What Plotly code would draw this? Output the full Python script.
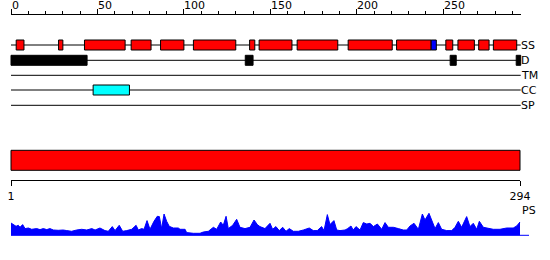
import plotly.graph_objects as go

# ---------------- data ----------------
seq_len = 294
track_names = ["SS", "D", "TM", "CC", "SP"]

# secondary structure (helix, red) segments in residues
ss_start = [3, 27.5, 42.5, 69.5, 86.5, 105.5, 138, 143.5, 165.5, 195, 223, 251.5, 258.5, 270.5, 279]
ss_end = [7.5, 30, 66, 81, 100, 130, 141, 162.5, 189, 220.5, 243, 255.5, 268, 276.5, 292.5]
# strand (blue)
ss_b_start = [243]
ss_b_end = [246]
# disorder (black)
dis_start = [0, 135.5, 254, 292.2]
dis_end = [44, 140, 257.5, 294.8]
# transmembrane (none)
tm_start, tm_end = [], []
# coiled coil (cyan)
cc_start = [47.5]
cc_end = [68.5]
# signal peptide (none)
sp_start, sp_end = [], []

top_ticks = [0, 50, 100, 150, 200, 250]
top_tick_labels = ["0", "50", "100", "150", "200", "250"]
bottom_ticks = [1, 294]
bottom_tick_labels = ["1", "294"]

# PS profile (residue, score)
ps_pos = [1.0, 2.3, 3.9, 5.2, 6.2, 7.7, 9.1, 11.0, 12.9, 15.8, 17.7, 19.6, 21.6, 23.4, 25.4, 28.2,
          31.1, 33.1, 35.9, 38.8, 41.7, 44.6, 47.5, 49.4, 52.2, 55.1, 57.0, 59.3, 60.9, 63.3, 65.3,
          67.6, 70.5, 73.0, 74.3, 76.2, 77.6, 79.3, 81.0, 83.3, 85.2, 86.4, 87.7, 89.1, 90.6, 92.1,
          94.4, 97.3, 98.3, 101.2, 102.1, 106.0, 109.8, 111.7, 114.6, 117.5, 119.4, 121.7, 123.2,
          124.8, 126.1, 128.6, 130.9, 132.8, 135.7, 138.6, 140.9, 142.8, 144.3, 147.2, 150.1, 151.6,
          153.5, 155.4, 157.4, 159.3, 161.2, 163.5, 166.4, 169.3, 172.7, 175.0, 177.3, 179.8, 181.2,
          183.1, 184.6, 186.9, 188.5, 190.4, 193.3, 194.8, 196.7, 198.0, 199.6, 201.9, 203.8, 205.8,
          207.7, 209.6, 211.9, 214.4, 216.3, 218.2, 221.1, 224.0, 226.8, 228.8, 230.7, 233.0, 235.5,
          237.8, 239.3, 241.6, 243.2, 245.1, 247.0, 248.9, 251.8, 254.7, 256.6, 258.5, 260.4, 263.3,
          265.2, 267.1, 269.1, 270.6, 272.9, 275.8, 278.6, 282.5, 286.3, 290.1, 292.1, 294.0]
ps_val = [12.3, 10.7, 9, 10, 8, 10.7, 6.7, 7.3, 6, 6.7, 5.7, 6.7, 5.7, 6.7, 5.3, 5,
          5.3, 4.7, 4, 5.3, 6, 5.3, 6.7, 5.3, 7.3, 4.7, 4, 8.7, 4.7, 10, 4,
          4.7, 6, 10, 5.3, 6.7, 6, 14.7, 6, 14, 19, 18.7, 6.7, 21.3, 14, 9,
          7.3, 7.3, 6, 6, 2.7, 2, 2, 3.3, 4, 8, 6, 13.3, 10,
          19, 6.7, 10, 16, 8, 6.7, 8, 15.3, 10.7, 8.7, 6.7, 12, 6,
          8.7, 4.7, 8, 4, 6.7, 4, 4, 5.3, 7.3, 4.7, 4.7, 8.7, 4.7,
          20.7, 10.7, 14.7, 5.3, 4.7, 5.3, 6.7, 9.3, 5.3, 8.7, 5.3, 12.7, 11.3,
          12, 8.7, 11.3, 6, 12.7, 8, 8, 6.7, 5.3, 5.3, 9.3, 12, 6,
          21.3, 15.3, 22, 15.3, 6.7, 12.7, 6, 4.7, 4.7, 8, 14, 8, 18.7,
          8.7, 12, 6, 14, 8, 6.7, 6, 6, 7.3, 7.3, 9.3, 13.3]

# ---------------- layout constants ----------------
W, H = 550, 260
FONT = "DejaVu Sans"


def fy(px):
    return 1 - px / H


X0 = 11.0              # pixel of residue 0 (top) / 1 (bottom)
TOP_END = 520.7
TOP_SCALE = 1.729      # px per residue (top)
BOT_END = 520.0
BOT_SCALE = (BOT_END - X0) / (bottom_ticks[1] - bottom_ticks[0])
row_y = [45, 60.3, 75.3, 90, 105.3]
box_h = 5
line_end = 294.8

fig = go.Figure()

# dummy traces to create subplots
for xa, ya in [("x", "y"), ("x2", "y2"), ("x3", "y3")]:
    fig.add_trace(go.Scatter(x=[], y=[], xaxis=xa, yaxis=ya, showlegend=False, hoverinfo="skip"))

# PS area
fig.add_trace(go.Scatter(x=ps_pos, y=ps_val, mode="lines", fill="tozeroy",
                         fillcolor="#0000ff", line=dict(color="#0000ff", width=1),
                         xaxis="x4", yaxis="y4", showlegend=False, hoverinfo="skip"))

shapes = []
# track baselines
for yv in row_y:
    shapes.append(dict(type="line", xref="x2", yref="y2", x0=0, x1=line_end, y0=yv, y1=yv,
                       line=dict(color="black", width=1), layer="below"))


def boxes(starts, ends, yv, color):
    for s, e in zip(starts, ends):
        shapes.append(dict(type="rect", xref="x2", yref="y2", x0=s, x1=e,
                           y0=yv - box_h, y1=yv + box_h, fillcolor=color,
                           line=dict(color="black", width=1)))


boxes(ss_start, ss_end, row_y[0], "#ff0000")
boxes(ss_b_start, ss_b_end, row_y[0], "#0000ff")
boxes(dis_start, dis_end, row_y[1], "#000000")
boxes(tm_start, tm_end, row_y[2], "#00ff00")
boxes(cc_start, cc_end, row_y[3], "#00ffff")
boxes(sp_start, sp_end, row_y[4], "#ff00ff")

# big red bar (whole sequence)
BASE_PX = 235.3
shapes.append(dict(type="rect", xref="x4", yref="y4", x0=bottom_ticks[0], x1=seq_len,
                   y0=BASE_PX - 170.3, y1=BASE_PX - 150.3, fillcolor="#ff0000",
                   line=dict(color="black", width=1)))
# PS baseline
shapes.append(dict(type="line", xref="x4", yref="y4", x0=bottom_ticks[0],
                   x1=bottom_ticks[0] + (529 - X0) / BOT_SCALE, y0=0, y1=0,
                   line=dict(color="#0000ff", width=1)))

annotations = []
for tv, tl in zip(top_ticks, top_tick_labels):
    annotations.append(dict(x=tv, xref="x", y=fy(5), yref="paper", text=tl, showarrow=False,
                            xanchor="left", yanchor="middle", borderpad=0, xshift=-0.5,
                            font=dict(family=FONT, size=11, color="black")))
for name, yv in zip(track_names, row_y):
    annotations.append(dict(x=519.5 / W, xref="paper", y=yv, yref="y2", text=name, showarrow=False,
                            xanchor="left", yanchor="middle", borderpad=0,
                            font=dict(family=FONT, size=11, color="black")))
annotations.append(dict(x=520.5 / W, xref="paper", y=fy(210.7), yref="paper", text="PS",
                        showarrow=False, xanchor="left", yanchor="middle", borderpad=0,
                        font=dict(family=FONT, size=11, color="black")))

hidden = dict(visible=False, showgrid=False, zeroline=False, fixedrange=True, automargin=False)

fig.update_layout(
    width=W, height=H, margin=dict(l=0, r=0, t=0, b=0, pad=0, autoexpand=False),
    paper_bgcolor="white", plot_bgcolor="rgba(0,0,0,0)", showlegend=False,
    shapes=shapes, annotations=annotations,
    xaxis=dict(domain=[X0 / W, TOP_END / W], range=[0, (TOP_END - X0) / TOP_SCALE],
               anchor="y", side="top", showline=True, linecolor="black", linewidth=1,
               ticks="outside", ticklen=5, tickcolor="black", tickwidth=1,
               tickmode="linear", tick0=0, dtick=50, showticklabels=False,
               minor=dict(ticks="outside", ticklen=3, tickcolor="black", tickwidth=1,
                          tick0=0, dtick=10, showgrid=False),
               showgrid=False, zeroline=False, fixedrange=True, automargin=False),
    yaxis=dict(domain=[fy(40), fy(15)], range=[40, 15], **hidden),
    xaxis2=dict(domain=[0, 1], range=[-X0 / TOP_SCALE, (W - X0) / TOP_SCALE], anchor="y2", **hidden),
    yaxis2=dict(domain=[fy(120), fy(30)], range=[120, 30], anchor="x2", **hidden),
    xaxis3=dict(domain=[X0 / W, BOT_END / W], range=[bottom_ticks[0], bottom_ticks[1]],
                anchor="y3", side="bottom", showline=True, linecolor="black", linewidth=1,
                ticks="outside", ticklen=5, tickcolor="black", tickwidth=1,
                tickmode="array", tickvals=bottom_ticks, ticktext=bottom_tick_labels,
                tickfont=dict(family=FONT, size=11, color="black"),
                showgrid=False, zeroline=False, fixedrange=True, automargin=False),
    yaxis3=dict(domain=[fy(180.3), fy(175)], range=[0, 1], anchor="x3", **hidden),
    xaxis4=dict(domain=[0, 1], range=[bottom_ticks[0] - X0 / BOT_SCALE,
                                      bottom_ticks[0] + (W - X0) / BOT_SCALE], anchor="y4", **hidden),
    yaxis4=dict(domain=[fy(BASE_PX + 2), fy(140)], range=[-2, BASE_PX - 140], anchor="x4", **hidden),
)

fig.write_html("out.html")
